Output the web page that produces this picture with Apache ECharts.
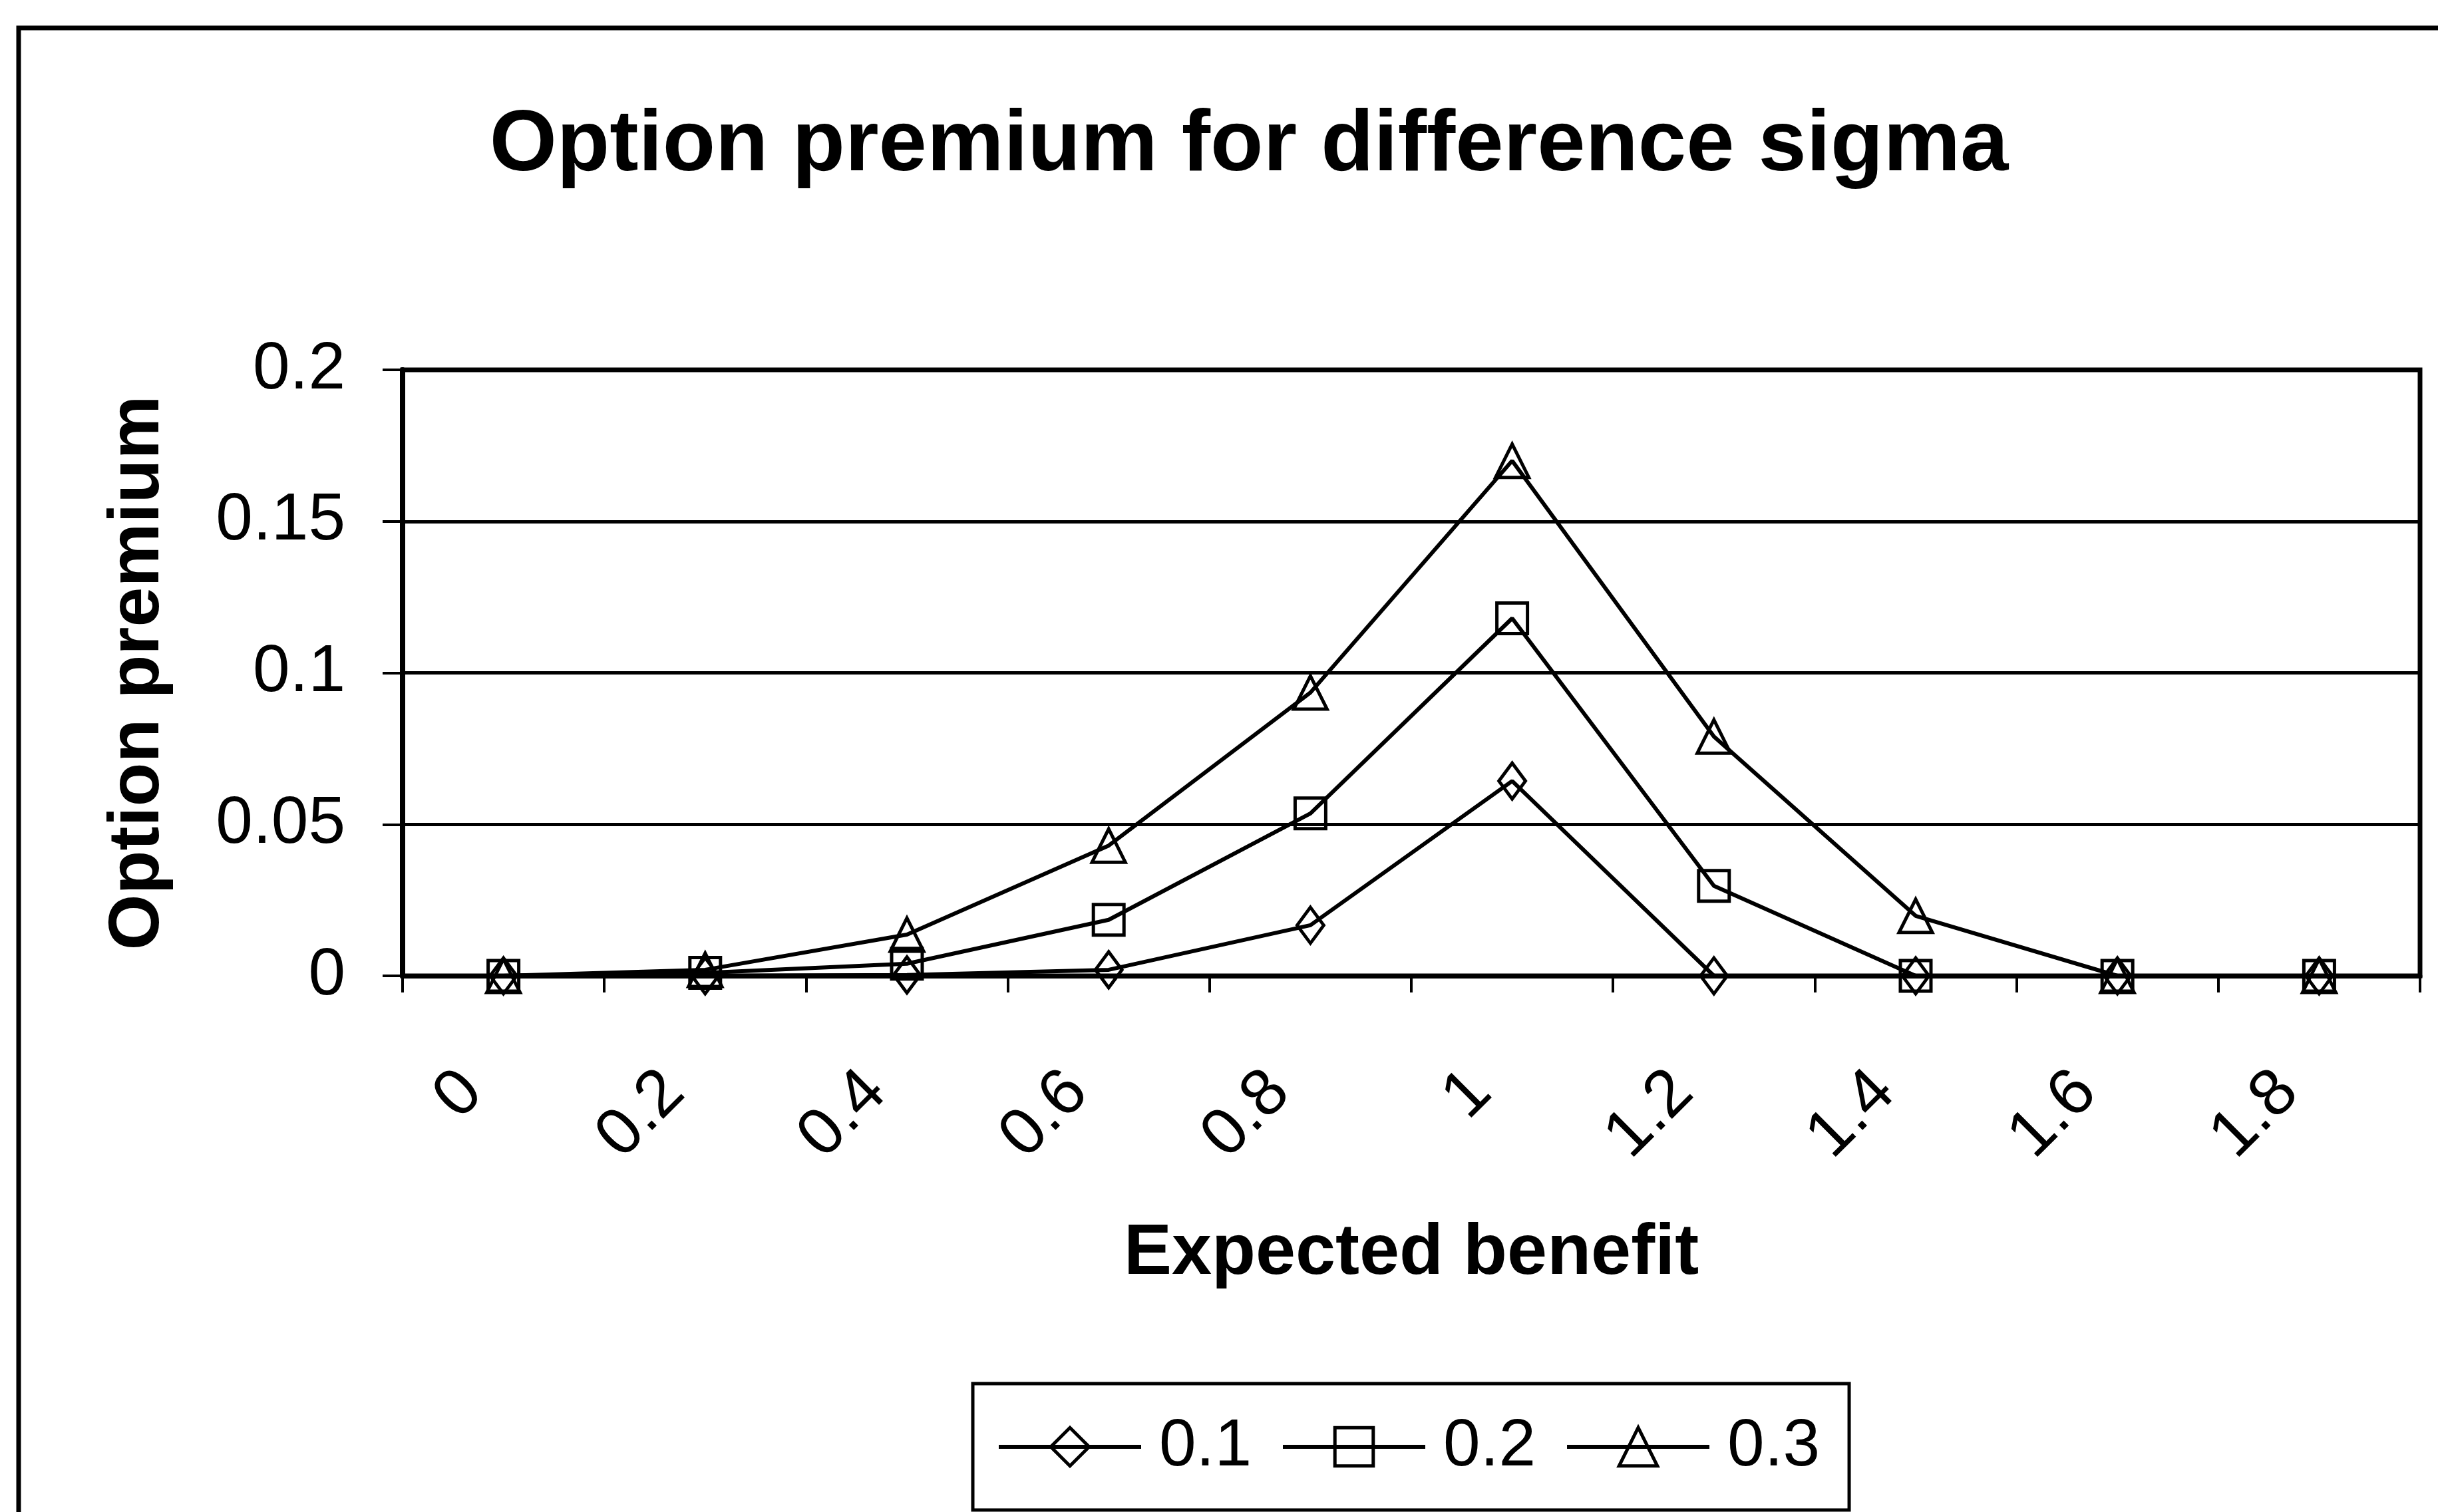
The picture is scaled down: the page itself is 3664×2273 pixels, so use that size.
<!DOCTYPE html>
<html>
<head>
<meta charset="utf-8">
<script src="https://cdn.jsdelivr.net/npm/echarts@6/dist/echarts.min.js"></script>
<style>
html,body{margin:0;padding:0;background:#fff;}
#chart{width:3664px;height:2273px;}
</style>
</head>
<body>
<div id="chart"></div>
<script>
const categories = ['0','0.2','0.4','0.6','0.8','1','1.2','1.4','1.6','1.8'];
const sigma01 = [0, 0, 0.0003, 0.002, 0.0167, 0.0643, 0, 0, 0, 0];
const sigma02 = [0, 0.001, 0.004, 0.0185, 0.0536, 0.118, 0.0297, 0, 0, 0];
const sigma03 = [0, 0.002, 0.0136, 0.043, 0.0935, 0.170, 0.079, 0.0198, 0, 0];
const seriesNames = ['0.1', '0.2', '0.3'];
const yTickLabels = ['0', '0.05', '0.1', '0.15', '0.2'];

const FONT = '"Liberation Sans", Arial, sans-serif';
const chart = echarts.init(document.getElementById('chart'), null, {renderer: 'canvas'});

function mkSeries(name, data, symbol, size) {
  return {
    name: name,
    type: 'line',
    data: data,
    symbol: symbol,
    symbolSize: size,
    showAllSymbol: true,
    lineStyle: {color: '#000', width: 6},
    itemStyle: {color: 'rgba(0,0,0,0)', borderColor: '#000', borderWidth: 5},
    emphasis: {disabled: true},
    animation: false
  };
}

chart.setOption({
  backgroundColor: '#fff',
  animation: false,
  graphic: [{
    type: 'rect',
    shape: {x: 28, y: 42, width: 3700, height: 2300},
    style: {fill: 'none', stroke: '#000', lineWidth: 7},
    silent: true
  }],
  title: {
    text: 'Option premium for difference sigma',
    left: 1872,
    top: 150,
    textAlign: 'center',
    textStyle: {fontFamily: FONT, fontSize: 130, fontWeight: 'bold', color: '#000'}
  },
  legend: {
    left: 1462,
    top: 2080,
    orient: 'horizontal',
    padding: [45, 44, 45, 36],
    itemGap: 44,
    itemWidth: 214,
    itemHeight: 72,
    borderColor: '#000',
    borderWidth: 5,
    data: seriesNames,
    itemStyle: {borderWidth: 5, borderColor: '#000', color: 'rgba(0,0,0,0)'},
    lineStyle: {width: 6, color: '#000'},
    textStyle: {fontFamily: FONT, fontSize: 100, color: '#000', padding: [0, 0, 0, 22]}
  },
  grid: {
    left: 605,
    right: 27,
    top: 556,
    bottom: 2273 - 1467,
    show: true,
    borderColor: '#000',
    borderWidth: 7,
    backgroundColor: 'transparent'
  },
  xAxis: {
    type: 'category',
    data: categories,
    boundaryGap: true,
    name: 'Expected benefit',
    nameLocation: 'middle',
    nameGap: 364,
    nameTextStyle: {fontFamily: FONT, fontSize: 108, fontWeight: 'bold', color: '#000'},
    axisLine: {lineStyle: {color: '#000', width: 7}},
    axisTick: {show: true, length: 25, inside: false, alignWithLabel: false, lineStyle: {color: '#000', width: 4}},
    axisLabel: {
      rotate: 45,
      margin: 113,
      padding: [0, 66, 0, 0],
      interval: 0,
      fontFamily: FONT,
      fontSize: 100,
      color: '#000'
    },
    splitLine: {show: false}
  },
  yAxis: {
    type: 'value',
    min: 0,
    max: 0.2,
    interval: 0.05,
    name: 'Option premium',
    nameLocation: 'middle',
    nameGap: 343,
    nameRotate: 90,
    nameTextStyle: {fontFamily: FONT, fontSize: 108, fontWeight: 'bold', color: '#000'},
    axisLine: {show: true, lineStyle: {color: '#000', width: 8}},
    axisTick: {show: true, length: 30, inside: false, lineStyle: {color: '#000', width: 4}},
    axisLabel: {
      margin: 86,
      fontFamily: FONT,
      fontSize: 100,
      color: '#000',
      formatter: function (v) { return yTickLabels[Math.round(v / 0.05)]; }
    },
    splitLine: {show: true, lineStyle: {color: '#000', width: 5}}
  },
  series: [
    mkSeries(seriesNames[0], sigma01, 'diamond', [40, 54]),
    mkSeries(seriesNames[1], sigma02, 'rect', 46),
    mkSeries(seriesNames[2], sigma03, 'triangle', 50)
  ]
});
</script>
</body>
</html>
